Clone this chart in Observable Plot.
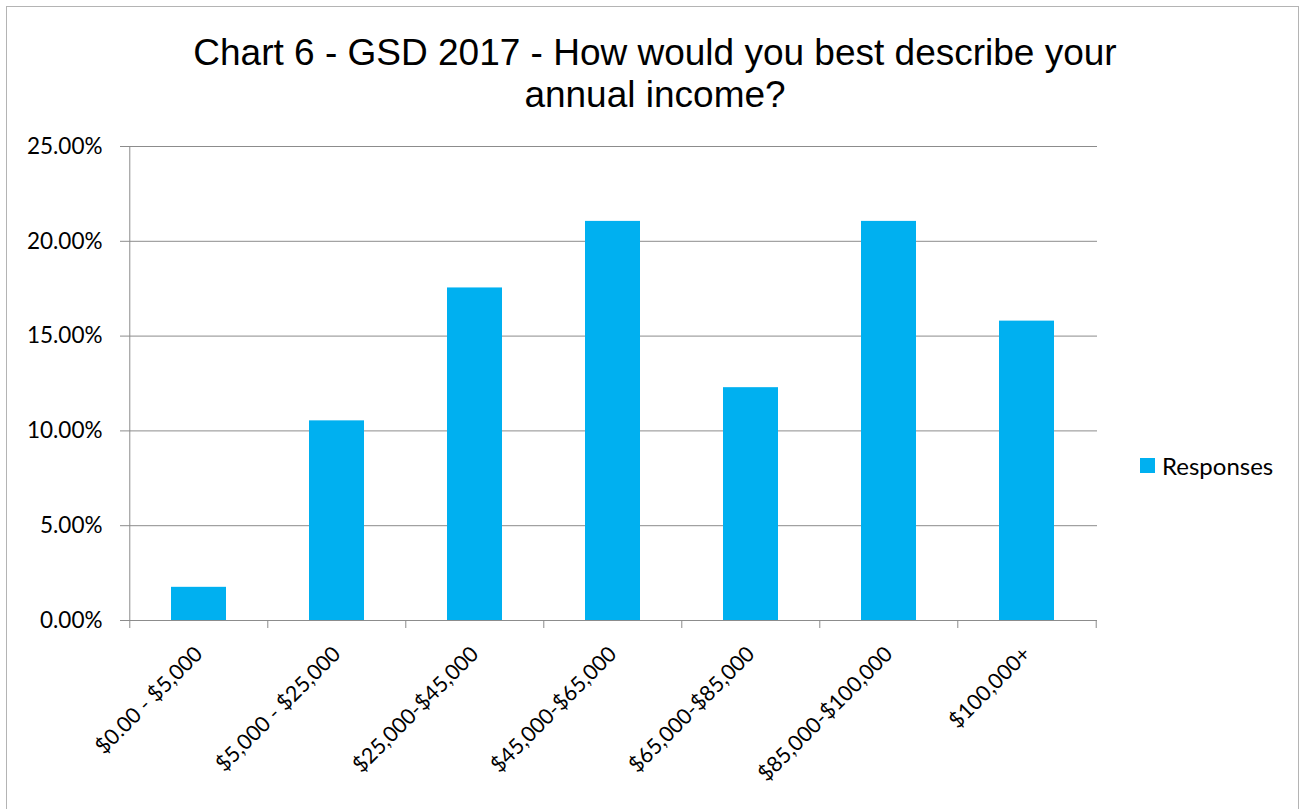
<!DOCTYPE html>
<html>
<head>
<meta charset="utf-8">
<script src="https://cdn.jsdelivr.net/npm/d3@7"></script>
<script src="https://cdn.jsdelivr.net/npm/@observablehq/plot@0.6"></script>
<style>
  body { margin: 0; background: #fff; }
  #chart { position: relative; width: 1302px; height: 809px; overflow: hidden; background: #fff; }
  #frame { position: absolute; left: 6px; top: 6px; width: 1293px; height: 900px;
           border: 1px solid #b4b4b4; box-sizing: border-box; pointer-events: none; }
  #title { position: absolute; left: 0; top: 0; width: 1302px; box-sizing: border-box;
           padding-top: 32px; padding-left: 8px; text-align: center; color: #000;
           font-family: "Liberation Sans", Arial, sans-serif; font-size: 37px; line-height: 42px; }
  #plot { position: absolute; left: 0; top: 120px; }
  #legend { position: absolute; left: 1140px; top: 449px; }
  #legend svg { margin-right: 7px !important; }
</style>
</head>
<body>
<div id="chart">
  <div id="frame"></div>
  <div id="title">Chart 6 - GSD 2017 - How would you best describe your<br>annual income?</div>
  <div id="plot"></div>
  <div id="legend"></div>
</div>
<script>
// Income brackets and share of responses in each
const categories = [
  "$0.00 - $5,000",
  "$5,000 - $25,000",
  "$25,000-$45,000",
  "$45,000-$65,000",
  "$65,000-$85,000",
  "$85,000-$100,000",
  "$100,000+"
];
const responses = [0.0175, 0.1053, 0.1754, 0.2105, 0.1228, 0.2105, 0.1579];
const yTicks = [0, 0.05, 0.10, 0.15, 0.20, 0.25];
const seriesName = "Responses";

const barColor = "#00B0F0";
const axisColor = "#8c8c8c";
const labelFont = "Lato, 'Open Sans', sans-serif";

const W = 1302, H = 689;
const mL = 128, mR = 205, mT = 26, mB = 189;
const step = (W - mL - mR) / categories.length;  // width of one category slot
const plotH = H - mT - mB;

const data = categories.map((category, i) => ({category, value: responses[i]}));

const chart = Plot.plot({
  width: W,
  height: H,
  marginLeft: mL,
  marginRight: mR,
  marginTop: mT,
  marginBottom: mB,
  style: {fontFamily: labelFont, fontSize: "22.5px", color: "#000", background: "transparent", overflow: "visible"},
  x: {domain: categories, paddingInner: 0.6, paddingOuter: 0.3, axis: null},
  y: {domain: [0, 0.25], axis: null},
  marks: [
    Plot.gridY(yTicks, {stroke: axisColor, strokeOpacity: 1}),
    Plot.barY(data, {x: "category", y: "value", fill: barColor}),
    // value axis line, extending down to the first category divider tick
    Plot.ruleX([categories[0]], {dx: -step / 2, stroke: axisColor, insetBottom: -8}),
    // category divider ticks below the baseline
    Plot.ruleX(categories.slice(1), {dx: -step / 2, stroke: axisColor, insetTop: plotH, insetBottom: -8}),
    Plot.ruleX(categories.slice(-1), {dx: step / 2, stroke: axisColor, insetTop: plotH, insetBottom: -8}),
    Plot.axisY({ticks: yTicks, tickFormat: d3.format(".2%"), tickSize: 8, tickPadding: 18,
                stroke: axisColor, fill: "#000", label: null}),
    Plot.axisX({tickSize: 0, tickRotate: -45, tickPadding: 30, fill: "#000", label: null, fontSize: 21.5})
  ]
});
document.getElementById("plot").appendChild(chart);

const legend = Plot.legend({
  color: {type: "categorical", domain: [seriesName], range: [barColor]},
  legend: "swatches",
  swatchSize: 15,
  style: {fontFamily: labelFont, fontSize: "24px", color: "#000", margin: 0}
});
document.getElementById("legend").appendChild(legend);
</script>
</body>
</html>
